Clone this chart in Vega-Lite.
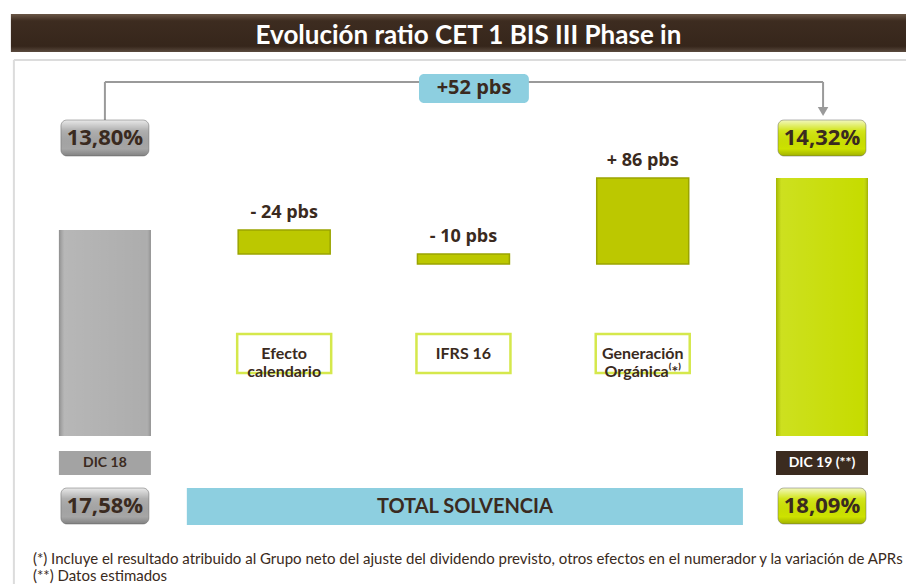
{
  "$schema": "https://vega.github.io/schema/vega-lite/v6.json",
  "width": 906,
  "height": 584,
  "padding": 0,
  "autosize": {"type": "none"},
  "background": "#ffffff",
  "config": {
    "view": {"stroke": null},
    "locale": {"number": {"decimal": ",", "thousands": ".", "grouping": [3], "currency": ["", " €"]}}
  },
  "data": {"values": [
    {"label": "DIC 18", "idx": 0, "kind": "total", "ratio": 0.1380, "solvencia": 0.1758},
    {"label": "Efecto\ncalendario", "idx": 1, "kind": "delta", "from": 0.1380, "to": 0.1356, "pbs": -24},
    {"label": "IFRS 16", "idx": 2, "kind": "delta", "from": 0.1356, "to": 0.1346, "pbs": -10},
    {"label": "Generación\nOrgánica⁽*⁾", "idx": 3, "kind": "delta", "from": 0.1346, "to": 0.1432, "pbs": 86},
    {"label": "DIC 19 (**)", "idx": 4, "kind": "total", "ratio": 0.1432, "solvencia": 0.1809}
  ]},
  "layer": [
    {
      "data": {"values": [{}]},
      "mark": {"type": "rule", "stroke": "#dcdcdc", "strokeWidth": 2},
      "encoding": {
        "x": {"datum": -0.5077, "type": "quantitative", "scale": {"domain": [-0.5573, 4.4407], "nice": false, "zero": false}, "axis": null},
        "y": {"datum": 0.1550, "type": "quantitative", "scale": {"domain": [0.1026, 0.1610], "nice": false, "zero": false}, "axis": null},
        "y2": {"datum": 0.1026}
      }
    },
    {
      "data": {"values": [{}]},
      "mark": {"type": "rule", "stroke": "#dcdcdc", "strokeWidth": 2},
      "encoding": {
        "x": {"datum": -0.5077, "type": "quantitative", "axis": null},
        "x2": {"datum": 4.48},
        "y": {"datum": 0.1550, "type": "quantitative", "axis": null}
      }
    },
    {
      "data": {"values": [{}]},
      "mark": {"type": "rect", "fill": {"gradient": "linear", "x1": 0, "y1": 0, "x2": 0, "y2": 1, "stops": [{"offset": 0, "color": "#6a5646"}, {"offset": 0.18, "color": "#3d2c20"}, {"offset": 0.85, "color": "#36261b"}, {"offset": 1, "color": "#5a4a3e"}]}},
      "encoding": {
        "x": {"datum": -0.5244, "type": "quantitative", "axis": null},
        "x2": {"datum": 4.48},
        "y": {"datum": 0.1596, "type": "quantitative", "axis": null},
        "y2": {"datum": 0.1558}
      }
    },
    {
      "data": {"values": [{}]},
      "mark": {"type": "text", "text": "Evolución ratio CET 1 BIS III Phase in", "font": "Lato", "fontSize": 26, "fontWeight": "bold", "fill": "#ffffff", "align": "center", "baseline": "middle"},
      "encoding": {
        "x": {"datum": 2.028, "type": "quantitative", "axis": null},
        "y": {"datum": 0.1574, "type": "quantitative", "axis": null}
      }
    },
    {
      "data": {"values": [{}]},
      "mark": {"type": "rule", "stroke": "#9a9a9a", "strokeWidth": 2},
      "encoding": {
        "x": {"datum": 0, "type": "quantitative", "axis": null},
        "y": {"datum": 0.1528, "type": "quantitative", "axis": null},
        "y2": {"datum": 0.1488}
      }
    },
    {
      "data": {"values": [{}]},
      "mark": {"type": "rule", "stroke": "#9a9a9a", "strokeWidth": 2},
      "encoding": {
        "x": {"datum": 0, "type": "quantitative", "axis": null},
        "x2": {"datum": 4.006},
        "y": {"datum": 0.1528, "type": "quantitative", "axis": null}
      }
    },
    {
      "data": {"values": [{}]},
      "mark": {"type": "rule", "stroke": "#9a9a9a", "strokeWidth": 2},
      "encoding": {
        "x": {"datum": 4.006, "type": "quantitative", "axis": null},
        "y": {"datum": 0.1528, "type": "quantitative", "axis": null},
        "y2": {"datum": 0.1500}
      }
    },
    {
      "data": {"values": [{}]},
      "mark": {"type": "point", "shape": "triangle-down", "filled": true, "fill": "#9a9a9a", "size": 110, "opacity": 1},
      "encoding": {
        "x": {"datum": 4.006, "type": "quantitative", "axis": null},
        "y": {"datum": 0.14985, "type": "quantitative", "axis": null}
      }
    },
    {
      "data": {"values": [{}]},
      "mark": {"type": "rect", "fill": "#8dcfe0", "cornerRadius": 5},
      "encoding": {
        "x": {"datum": 1.752, "type": "quantitative", "axis": null},
        "x2": {"datum": 2.365},
        "y": {"datum": 0.1536, "type": "quantitative", "axis": null},
        "y2": {"datum": 0.1507}
      }
    },
    {
      "data": {"values": [{}]},
      "mark": {"type": "text", "text": "+52 pbs", "font": "Open Sans", "fontSize": 20, "fontWeight": "bold", "fill": "#3a2a20", "align": "center", "baseline": "middle"},
      "encoding": {
        "x": {"datum": 2.059, "type": "quantitative", "axis": null},
        "y": {"datum": 0.1522, "type": "quantitative", "axis": null}
      }
    },
    {
      "transform": [{"filter": "datum.kind == 'total'"}],
      "mark": {"type": "bar", "width": 92},
      "encoding": {
        "x": {"field": "idx", "type": "quantitative", "axis": null},
        "y": {"field": "ratio", "type": "quantitative", "axis": null},
        "y2": {"datum": 0.1174},
        "color": {"condition": {"test": "datum.idx == 4", "value": "#c6dc00"}, "value": "#adadad"}
      }
    },
    {
      "transform": [{"filter": "datum.kind == 'total'"}],
      "mark": {"type": "bar", "width": 92, "fill": {"gradient": "linear", "x1": 0, "y1": 0, "x2": 1, "y2": 0, "stops": [{"offset": 0, "color": "rgba(0,0,0,0.18)"}, {"offset": 0.06, "color": "rgba(255,255,255,0.12)"}, {"offset": 0.94, "color": "rgba(255,255,255,0.0)"}, {"offset": 1, "color": "rgba(0,0,0,0.2)"}]}},
      "encoding": {
        "x": {"field": "idx", "type": "quantitative", "axis": null},
        "y": {"field": "ratio", "type": "quantitative", "axis": null},
        "y2": {"datum": 0.1174}
      }
    },
    {
      "transform": [{"filter": "datum.kind == 'delta'"}],
      "mark": {"type": "bar", "width": 92, "fill": "#bcc800", "stroke": "#9aa400", "strokeWidth": 1.5},
      "encoding": {
        "x": {"field": "idx", "type": "quantitative", "axis": null},
        "y": {"field": "from", "type": "quantitative", "axis": null},
        "y2": {"field": "to"}
      }
    },
    {
      "transform": [
        {"filter": "datum.kind == 'delta'"},
        {"calculate": "max(datum.from, datum.to)", "as": "top"},
        {"calculate": "(datum.pbs < 0 ? '- ' : '+ ') + abs(datum.pbs) + ' pbs'", "as": "lab"}
      ],
      "mark": {"type": "text", "font": "Open Sans", "fontSize": 18, "fontWeight": "bold", "fill": "#3a2a20", "align": "center", "baseline": "bottom", "dy": -8},
      "encoding": {
        "x": {"field": "idx", "type": "quantitative", "axis": null},
        "y": {"field": "top", "type": "quantitative", "axis": null},
        "text": {"field": "lab"}
      }
    },
    {
      "transform": [{"filter": "datum.kind == 'delta'"}],
      "mark": {"type": "bar", "width": 94, "fill": "#ffffff", "stroke": "#d5e84c", "strokeWidth": 2.5},
      "encoding": {
        "x": {"field": "idx", "type": "quantitative", "axis": null},
        "y": {"datum": 0.1276, "type": "quantitative", "axis": null},
        "y2": {"datum": 0.1237}
      }
    },
    {
      "transform": [{"filter": "datum.kind == 'delta'"}],
      "mark": {"type": "text", "font": "Lato", "fontSize": 16, "fontWeight": "bold", "fill": "#3a2a20", "align": "center", "baseline": "middle", "lineBreak": "\n", "lineHeight": 18},
      "encoding": {
        "x": {"field": "idx", "type": "quantitative", "axis": null},
        "y": {"datum": 0.12565, "type": "quantitative", "axis": null},
        "text": {"field": "label"}
      }
    },
    {
      "transform": [{"filter": "datum.kind == 'total'"}],
      "mark": {"type": "bar", "width": 88, "cornerRadius": 6},
      "encoding": {
        "x": {"field": "idx", "type": "quantitative", "axis": null},
        "y": {"datum": 0.1490, "type": "quantitative", "axis": null},
        "y2": {"datum": 0.1454},
        "color": {"condition": {"test": "datum.idx == 4", "value": "#cde200"}, "value": "#a6a6a6"}
      }
    },
    {
      "transform": [{"filter": "datum.kind == 'total'"}],
      "mark": {"type": "bar", "width": 88, "cornerRadius": 6},
      "encoding": {
        "x": {"field": "idx", "type": "quantitative", "axis": null},
        "y": {"datum": 0.1122, "type": "quantitative", "axis": null},
        "y2": {"datum": 0.1086},
        "color": {"condition": {"test": "datum.idx == 4", "value": "#cde200"}, "value": "#a6a6a6"}
      }
    },
    {
      "transform": [{"filter": "datum.kind == 'total'"}],
      "mark": {"type": "bar", "width": 88, "cornerRadius": 6, "stroke": "rgba(90,90,90,0.45)", "strokeWidth": 1, "fill": {"gradient": "linear", "x1": 0, "y1": 0, "x2": 0, "y2": 1, "stops": [{"offset": 0, "color": "rgba(255,255,255,0.75)"}, {"offset": 0.3, "color": "rgba(255,255,255,0.1)"}, {"offset": 0.8, "color": "rgba(0,0,0,0.0)"}, {"offset": 1, "color": "rgba(0,0,0,0.22)"}]}},
      "encoding": {
        "x": {"field": "idx", "type": "quantitative", "axis": null},
        "y": {"datum": 0.1490, "type": "quantitative", "axis": null},
        "y2": {"datum": 0.1454}
      }
    },
    {
      "transform": [{"filter": "datum.kind == 'total'"}],
      "mark": {"type": "bar", "width": 88, "cornerRadius": 6, "stroke": "rgba(90,90,90,0.45)", "strokeWidth": 1, "fill": {"gradient": "linear", "x1": 0, "y1": 0, "x2": 0, "y2": 1, "stops": [{"offset": 0, "color": "rgba(255,255,255,0.75)"}, {"offset": 0.3, "color": "rgba(255,255,255,0.1)"}, {"offset": 0.8, "color": "rgba(0,0,0,0.0)"}, {"offset": 1, "color": "rgba(0,0,0,0.22)"}]}},
      "encoding": {
        "x": {"field": "idx", "type": "quantitative", "axis": null},
        "y": {"datum": 0.1122, "type": "quantitative", "axis": null},
        "y2": {"datum": 0.1086}
      }
    },
    {
      "transform": [{"filter": "datum.kind == 'total'"}],
      "mark": {"type": "text", "font": "Open Sans", "fontSize": 22, "fontWeight": "bold", "fill": "#3a2a20", "align": "center", "baseline": "middle"},
      "encoding": {
        "x": {"field": "idx", "type": "quantitative", "axis": null},
        "y": {"datum": 0.1472, "type": "quantitative", "axis": null},
        "text": {"field": "ratio", "type": "quantitative", "format": ".2%"}
      }
    },
    {
      "transform": [{"filter": "datum.kind == 'total'"}],
      "mark": {"type": "text", "font": "Open Sans", "fontSize": 22, "fontWeight": "bold", "fill": "#3a2a20", "align": "center", "baseline": "middle"},
      "encoding": {
        "x": {"field": "idx", "type": "quantitative", "axis": null},
        "y": {"datum": 0.1104, "type": "quantitative", "axis": null},
        "text": {"field": "solvencia", "type": "quantitative", "format": ".2%"}
      }
    },
    {
      "transform": [{"filter": "datum.kind == 'total'"}],
      "mark": {"type": "bar", "width": 92},
      "encoding": {
        "x": {"field": "idx", "type": "quantitative", "axis": null},
        "y": {"datum": 0.1159, "type": "quantitative", "axis": null},
        "y2": {"datum": 0.1135},
        "color": {"condition": {"test": "datum.idx == 4", "value": "#3b2b1f"}, "value": "#a3a3a3"}
      }
    },
    {
      "transform": [{"filter": "datum.kind == 'total'"}],
      "mark": {"type": "text", "font": "Lato", "fontSize": 14, "fontWeight": "bold", "align": "center", "baseline": "middle"},
      "encoding": {
        "x": {"field": "idx", "type": "quantitative", "axis": null},
        "y": {"datum": 0.1147, "type": "quantitative", "axis": null},
        "text": {"field": "label"},
        "color": {"condition": {"test": "datum.idx == 4", "value": "#ffffff"}, "value": "#3a2a20"}
      }
    },
    {
      "data": {"values": [{}]},
      "mark": {"type": "rect", "fill": "#8dcfe0"},
      "encoding": {
        "x": {"datum": 0.457, "type": "quantitative", "axis": null},
        "x2": {"datum": 3.559},
        "y": {"datum": 0.1122, "type": "quantitative", "axis": null},
        "y2": {"datum": 0.1085}
      }
    },
    {
      "data": {"values": [{}]},
      "mark": {"type": "text", "text": "TOTAL SOLVENCIA", "font": "Lato", "fontSize": 20, "fontWeight": "bold", "fill": "#3a2a20", "align": "center", "baseline": "middle"},
      "encoding": {
        "x": {"datum": 2.008, "type": "quantitative", "axis": null},
        "y": {"datum": 0.1103, "type": "quantitative", "axis": null}
      }
    },
    {
      "data": {"values": [{}]},
      "mark": {"type": "text", "text": "(*) Incluye  el resultado atribuido al  Grupo neto del ajuste del dividendo previsto, otros efectos en el numerador y la variación de APRs\n(**) Datos estimados", "lineBreak": "\n", "lineHeight": 17, "font": "Lato", "fontSize": 15, "fill": "#3a2a20", "align": "left", "baseline": "middle"},
      "encoding": {
        "x": {"datum": -0.4017, "type": "quantitative", "axis": null},
        "y": {"datum": 0.1051, "type": "quantitative", "axis": null}
      }
    }
  ]
}
